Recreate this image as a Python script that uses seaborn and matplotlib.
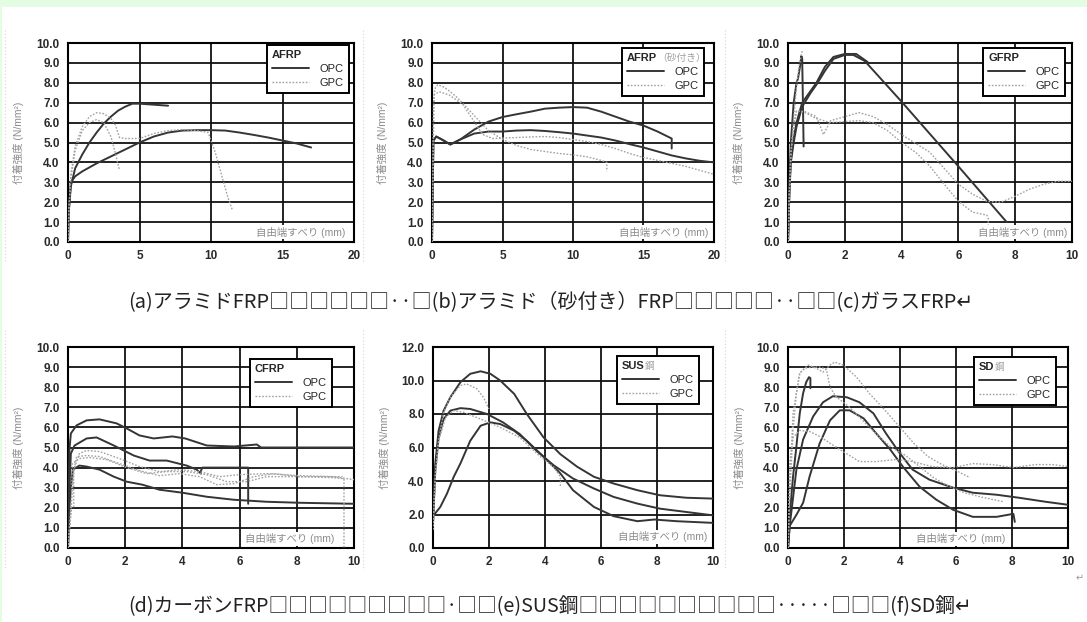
import numpy as np
import seaborn as sns
import matplotlib.pyplot as plt
from matplotlib.lines import Line2D
from matplotlib.patches import Rectangle

# (a) AFRP
a_opc1_x = [0, 0.05, 0.2, 0.5, 1, 1.5, 2, 2.5, 3, 3.5, 4, 4.5, 5, 6, 7]
a_opc1_y = [0, 1.5, 2.8, 3.7, 4.4, 5.0, 5.5, 5.95, 6.3, 6.6, 6.8, 6.95, 6.95, 6.9, 6.85]
a_opc2_x = [0, 0.05, 0.2, 0.5, 1, 2, 3, 4, 5, 6, 7, 8, 9, 10, 11, 12, 13, 14, 15, 16, 17]
a_opc2_y = [0, 1.5, 3.0, 3.3, 3.55, 3.95, 4.3, 4.65, 5.0, 5.3, 5.5, 5.6, 5.62, 5.62, 5.6, 5.5, 5.38, 5.25, 5.1, 4.95, 4.75]
a_gpc1_x = [0, 0.05, 0.2, 0.5, 1, 1.5, 2, 2.5, 3, 3.3, 3.6]
a_gpc1_y = [0, 1.5, 3.2, 4.6, 5.6, 6.0, 6.15, 6.0, 5.3, 4.5, 3.6]
a_gpc2_x = [0, 0.05, 0.2, 0.5, 1, 1.5, 2, 2.5, 3, 3.3, 3.6, 4, 5, 6, 7, 8, 9, 9.8, 10.3, 10.8, 11.2, 11.5]
a_gpc2_y = [0, 1.5, 3.4, 4.8, 5.8, 6.3, 6.5, 6.45, 6.2, 5.9, 5.25, 5.2, 5.2, 5.45, 5.6, 5.65, 5.6, 5.5, 4.5, 3.2, 2.2, 1.6]

# (b) AFRP (sand coated)
b_opc1_x = [0, 0.1, 0.3, 0.7, 1.3, 2, 3, 4, 5, 6, 7, 8, 9, 10, 11, 12, 13, 14, 15, 16, 17, 17]
b_opc1_y = [0, 5.1, 5.3, 5.15, 4.9, 5.15, 5.65, 6.05, 6.28, 6.42, 6.55, 6.7, 6.75, 6.78, 6.75, 6.55, 6.3, 6.05, 5.85, 5.55, 5.2, 4.7]
b_opc2_x = [0, 0.1, 0.3, 0.7, 1.3, 2, 3, 4, 5, 6, 7, 8, 9, 10, 11, 12, 13, 14, 15, 16, 17, 18, 19, 20]
b_opc2_y = [0, 5.1, 5.3, 5.15, 4.9, 5.15, 5.45, 5.55, 5.55, 5.6, 5.62, 5.58, 5.52, 5.45, 5.35, 5.25, 5.1, 4.92, 4.75, 4.55, 4.35, 4.2, 4.08, 4.0]
b_gpc1_x = [0, 0.1, 0.2, 0.4, 0.8, 1.2, 1.8, 2.4, 3, 3.4, 4, 5, 6, 7, 8, 9, 10, 11, 12, 12.4, 12.4]
b_gpc1_y = [0, 6.8, 7.7, 7.9, 7.8, 7.6, 7.25, 6.8, 6.35, 6.05, 5.6, 5.15, 4.85, 4.65, 4.55, 4.45, 4.38, 4.28, 4.1, 4.0, 3.55]
b_gpc2_x = [0, 0.15, 0.5, 1.2, 2.2, 2.9, 3.6, 4.3, 5, 6, 7, 8, 9, 10, 11, 12, 13, 14, 15, 16, 17, 18, 19, 20]
b_gpc2_y = [0, 7.4, 7.55, 7.4, 6.9, 6.15, 5.4, 5.2, 5.22, 5.25, 5.28, 5.3, 5.25, 5.15, 5.05, 4.9, 4.7, 4.45, 4.25, 4.1, 3.95, 3.8, 3.6, 3.4]

# (c) GFRP
c_opc1_x = [0, 0.05, 0.1, 0.2, 0.3, 0.35, 0.42, 0.47, 0.5, 0.55]
c_opc1_y = [0, 3.0, 5.0, 7.0, 8.0, 8.2, 8.8, 9.35, 9.2, 4.8]
c_opc2_x = [0, 0.05, 0.1, 0.2, 0.3, 0.5, 0.8, 1.0, 1.3, 1.6, 2.0, 2.3, 2.7, 4.0, 6.0, 7.7]
c_opc2_y = [0, 2.5, 4.0, 5.0, 5.8, 6.8, 7.5, 7.9, 8.6, 9.2, 9.4, 9.4, 9.1, 7.05, 3.8, 1.0]
c_opc3_x = [0, 0.05, 0.1, 0.2, 0.3, 0.5, 0.8, 1.0, 1.3, 1.6, 2.0, 2.4, 2.8]
c_opc3_y = [0, 2.7, 4.2, 5.2, 6.0, 7.0, 7.6, 8.0, 8.8, 9.3, 9.45, 9.45, 9.05]
c_gpc1_x = [0, 0.05, 0.1, 0.2, 0.3, 0.4, 0.5]
c_gpc1_y = [0, 2.5, 4.2, 6.2, 7.8, 8.9, 9.6]
c_gpc2_x = [0, 0.05, 0.1, 0.2, 0.3, 0.6, 1.0, 1.25, 1.5, 2.0, 2.5, 3.0, 3.5, 4.0, 4.5, 5.0, 5.5, 6.0, 6.5, 7.0, 7.5, 8.0, 8.5, 9.0, 9.5, 10.0]
c_gpc2_y = [0, 2.5, 4.5, 5.8, 6.6, 6.55, 6.3, 5.4, 6.1, 6.3, 6.5, 6.3, 5.9, 5.4, 4.95, 4.5, 3.7, 2.9, 2.4, 2.05, 2.0, 2.3, 2.65, 2.9, 3.05, 3.05]
c_gpc3_x = [0, 0.05, 0.1, 0.2, 0.3, 0.6, 1.0, 1.5, 2.0, 2.5, 3.0, 3.5, 4.0, 4.5, 5.0, 5.5, 6.0, 6.5, 7.0, 7.05, 7.05]
c_gpc3_y = [0, 2.5, 4.5, 5.8, 6.6, 6.5, 6.2, 6.0, 6.05, 6.1, 6.0, 5.6, 5.0, 4.5, 3.8, 2.9, 2.05, 1.5, 1.35, 1.2, 0.8]

# (d) CFRP
d_opc1_x = [0, 0.05, 0.1, 0.3, 0.65, 1.1, 1.7, 2.05, 2.5, 3.0, 3.65, 4.1, 4.85, 5.8, 6.6, 6.75, 8, 10]
d_opc1_y = [0, 4.9, 5.7, 6.1, 6.35, 6.4, 6.2, 5.95, 5.6, 5.45, 5.55, 5.45, 5.1, 5.05, 5.15, 5.0, 5.0, 5.0]
d_opc2_x = [0, 0.05, 0.1, 0.23, 0.65, 1.0, 1.6, 2.3, 2.85, 3.45, 4.15, 4.5, 4.65, 4.65, 4.7, 6.3, 6.3]
d_opc2_y = [0, 3.0, 4.7, 5.1, 5.45, 5.5, 5.1, 4.6, 4.35, 4.35, 4.1, 3.9, 3.7, 3.85, 4.0, 4.0, 2.2]
d_opc3_x = [0, 0.05, 0.1, 0.17, 0.4, 0.65, 1.1, 1.6, 2.05, 2.6, 3.2, 4.0, 4.85, 5.8, 6.95, 8.1, 10]
d_opc3_y = [0, 2.0, 3.0, 3.9, 4.1, 4.05, 3.9, 3.55, 3.3, 3.15, 2.9, 2.75, 2.55, 2.4, 2.3, 2.25, 2.2]
d_gpc1_x = [0, 0.12, 0.2, 0.2, 0.4, 0.65, 1.1, 1.8, 2.5, 3.2, 3.9, 4.6, 5.3, 6.0, 6.95, 8.1, 9.25, 10]
d_gpc1_y = [0, 2.05, 2.05, 3.9, 4.7, 4.85, 4.8, 4.45, 4.05, 3.8, 3.9, 3.8, 3.55, 3.65, 3.7, 3.6, 3.55, 3.4]
d_gpc2_x = [0, 0.1, 0.2, 0.3, 0.65, 1.1, 1.8, 2.5, 3.2, 3.9, 4.6, 5.2, 5.8, 6.5, 7.2, 8.1, 9.25, 9.65, 9.65]
d_gpc2_y = [0, 2.0, 3.8, 4.55, 4.6, 4.55, 4.2, 3.85, 3.6, 3.7, 3.55, 3.15, 3.2, 3.55, 3.7, 3.55, 3.5, 3.45, 0]
d_gpc3_x = [0, 0.12, 0.15, 0.4, 0.75, 1.35, 2.05, 2.75, 3.45, 4.15, 4.85, 5.55, 6.25, 6.95, 7.9, 8.8, 9.6]
d_gpc3_y = [0, 2.05, 4.2, 4.45, 4.5, 4.4, 4.0, 3.7, 3.8, 3.8, 3.65, 3.3, 3.3, 3.55, 3.55, 3.55, 3.55]

# (e) SUS steel
e_opc1_x = [0, 0.08, 0.2, 0.38, 0.62, 0.98, 1.33, 1.7, 2.05, 2.4, 2.9, 3.35, 3.95, 4.55, 5.15, 5.75, 6.45, 7.3, 8.1, 9.05, 10]
e_opc1_y = [1.5, 5.0, 7.0, 8.2, 9.0, 9.9, 10.4, 10.55, 10.4, 10.0, 9.2, 8.0, 6.6, 5.6, 4.85, 4.25, 3.85, 3.45, 3.15, 3.0, 2.95]
e_opc2_x = [0, 0.08, 0.2, 0.38, 0.62, 0.98, 1.33, 1.93, 2.5, 3.1, 3.7, 4.3, 5.0, 5.75, 6.45, 7.3, 8.1, 9.05, 10]
e_opc2_y = [1.5, 4.6, 6.6, 7.7, 8.2, 8.35, 8.3, 8.0, 7.5, 6.8, 5.8, 4.95, 4.15, 3.55, 3.05, 2.65, 2.35, 2.15, 1.95]
e_opc3_x = [0, 0.26, 0.5, 0.74, 0.98, 1.33, 1.7, 2.05, 2.4, 2.9, 3.35, 3.95, 4.55, 5.0, 5.75, 6.45, 7.3, 7.9, 8.7, 10]
e_opc3_y = [1.9, 2.45, 3.25, 4.25, 5.05, 6.4, 7.3, 7.5, 7.4, 7.0, 6.4, 5.45, 4.45, 3.45, 2.45, 1.9, 1.6, 1.7, 1.6, 1.5]
e_gpc1_x = [0, 0.08, 0.2, 0.38, 0.62, 0.98, 1.2, 1.57, 1.8, 2.0]
e_gpc1_y = [1.1, 4.4, 6.4, 8.1, 9.0, 9.7, 9.8, 9.5, 9.0, 8.3]
e_gpc2_x = [0, 0.08, 0.2, 0.45, 0.74, 1.1, 1.7, 2.4, 3.1, 3.8, 4.3, 4.55, 4.55]
e_gpc2_y = [1.1, 4.2, 6.4, 7.8, 8.2, 8.1, 7.7, 7.2, 6.6, 5.5, 4.85, 4.25, 3.65]

# (f) SD steel
f_opc1_x = [0, 0.06, 0.18, 0.3, 0.42, 0.54, 0.65, 0.75, 0.8, 0.8]
f_opc1_y = [0, 1.6, 3.55, 5.05, 6.7, 7.7, 8.25, 8.5, 8.45, 7.95]
f_opc2_x = [0, 0.06, 0.3, 0.54, 0.9, 1.25, 1.6, 2.1, 2.55, 3.05, 3.5, 4.0, 4.45, 5.05, 5.9, 6.6, 7.45, 8.25, 9.2, 10]
f_opc2_y = [0, 1.1, 3.9, 5.4, 6.55, 7.25, 7.55, 7.5, 7.25, 6.7, 5.7, 4.7, 3.9, 3.4, 3.0, 2.75, 2.65, 2.5, 2.3, 2.15]
f_opc3_x = [0, 0.06, 0.3, 0.54, 0.77, 1.13, 1.5, 1.85, 2.2, 2.7, 3.15, 3.65, 4.1, 4.7, 5.3, 5.9, 6.6, 7.45, 8.05, 8.1]
f_opc3_y = [0, 1.1, 1.65, 2.25, 3.55, 5.2, 6.35, 6.85, 6.85, 6.45, 5.7, 4.9, 4.05, 3.05, 2.4, 1.9, 1.55, 1.55, 1.7, 1.3]
f_gpc1_x = [0, 0.06, 0.18, 0.3, 0.42, 0.6, 0.9, 1.13, 1.37, 1.5, 1.7, 2.2, 2.7, 3.2, 3.7, 4.2, 4.7, 5.2, 5.7, 6.3, 7.0, 7.7]
f_gpc1_y = [0, 2.55, 5.85, 7.7, 8.7, 8.95, 9.0, 9.0, 8.9, 8.0, 7.55, 7.0, 6.3, 5.6, 5.0, 4.6, 4.05, 3.5, 3.1, 2.75, 2.5, 2.3]
f_gpc2_x = [0, 0.06, 0.18, 0.42, 0.72, 1.0, 1.25, 1.5, 1.67, 1.97, 2.45, 2.9, 3.5, 4.0, 4.5, 5.0, 5.5, 6.0, 6.5]
f_gpc2_y = [0, 3.0, 6.7, 8.7, 9.1, 8.95, 8.75, 9.1, 9.25, 9.1, 8.5, 7.7, 6.8, 6.0, 5.2, 4.55, 4.15, 3.85, 3.5]
f_gpc3_x = [0, 0.06, 0.18, 0.42, 0.77, 1.13, 1.85, 2.55, 3.15, 3.85, 4.45, 5.15, 5.9, 6.6, 7.3, 8.05, 8.85, 9.45, 10]
f_gpc3_y = [0, 4.2, 5.5, 5.85, 5.8, 5.55, 4.9, 4.3, 4.3, 4.4, 4.3, 4.05, 4.0, 4.2, 4.15, 4.0, 4.15, 4.15, 4.05]

series_labels = ["OPC", "GPC"]
y_label = "付着強度 (N/mm²)"
x_label = "自由端すべり (mm)"
caption_top = "(a)アラミドFRP□□□□□□··□(b)アラミド（砂付き）FRP□□□□□··□□(c)ガラスFRP↵"
caption_bottom = "(d)カーボンFRP□□□□□□□□□·□□(e)SUS鋼□□□□□□□□□□·····□□□(f)SD鋼↵"

OPC_COLOR = "#353535"
GPC_COLOR = "#a2a2a2"
W, H = 1087, 622

panels = [
    dict(box=(68, 43, 286, 199), xmax=20, xstep=5, ymax=10, ystep=1,
         opc=[(a_opc1_x, a_opc1_y), (a_opc2_x, a_opc2_y)],
         gpc=[(a_gpc1_x, a_gpc1_y), (a_gpc2_x, a_gpc2_y)],
         title="AFRP", extra=None, leg=(0.696, 0.99), xl=(0.97, 0.05)),
    dict(box=(432, 43, 282, 199), xmax=20, xstep=5, ymax=10, ystep=1,
         opc=[(b_opc1_x, b_opc1_y), (b_opc2_x, b_opc2_y)],
         gpc=[(b_gpc1_x, b_gpc1_y), (b_gpc2_x, b_gpc2_y)],
         title="AFRP", extra="（砂付き）", leg=(0.674, 0.975), xl=(0.98, 0.05)),
    dict(box=(788, 43, 284, 199), xmax=10, xstep=2, ymax=10, ystep=1,
         opc=[(c_opc1_x, c_opc1_y), (c_opc2_x, c_opc2_y), (c_opc3_x, c_opc3_y)],
         gpc=[(c_gpc1_x, c_gpc1_y), (c_gpc2_x, c_gpc2_y), (c_gpc3_x, c_gpc3_y)],
         title="GFRP", extra=None, leg=(0.687, 0.975), xl=(0.985, 0.05)),
    dict(box=(68, 347, 286, 201), xmax=10, xstep=2, ymax=10, ystep=1,
         opc=[(d_opc1_x, d_opc1_y), (d_opc2_x, d_opc2_y), (d_opc3_x, d_opc3_y)],
         gpc=[(d_gpc1_x, d_gpc1_y), (d_gpc2_x, d_gpc2_y), (d_gpc3_x, d_gpc3_y)],
         title="CFRP", extra=None, leg=(0.636, 0.94), xl=(0.93, 0.045)),
    dict(box=(433, 347, 280, 201), xmax=10, xstep=2, ymax=12, ystep=2,
         opc=[(e_opc1_x, e_opc1_y), (e_opc2_x, e_opc2_y), (e_opc3_x, e_opc3_y)],
         gpc=[(e_gpc1_x, e_gpc1_y), (e_gpc2_x, e_gpc2_y)],
         title="SUS", extra="鋼", leg=(0.657, 0.955), xl=(0.98, 0.055)),
    dict(box=(788, 347, 280, 201), xmax=10, xstep=2, ymax=10, ystep=1,
         opc=[(f_opc1_x, f_opc1_y), (f_opc2_x, f_opc2_y), (f_opc3_x, f_opc3_y)],
         gpc=[(f_gpc1_x, f_gpc1_y), (f_gpc2_x, f_gpc2_y), (f_gpc3_x, f_gpc3_y)],
         title="SD", extra="鋼", leg=(0.664, 0.95), xl=(0.775, 0.045)),
]

sns.set_style("white")
plt.rcParams["font.family"] = ["Liberation Sans", "Noto Sans CJK JP", "DejaVu Sans"]

fig = plt.figure(figsize=(W / 100, H / 100), dpi=100)
fig.patch.set_facecolor("white")
fig.add_artist(Rectangle((0, 1 - 7 / H), 1, 7 / H, transform=fig.transFigure,
                         facecolor="#e3fde3", edgecolor="none", zorder=0))
fig.add_artist(Rectangle((0, 0), 2 / W, 1, transform=fig.transFigure,
                         facecolor="#e3fde3", edgecolor="none", zorder=0))

# faint table cell borders
for xp in [5, 363, 725]:
    for y0, y1 in [(30, 262), (330, 570)]:
        fig.add_artist(Line2D([xp / W, xp / W], [1 - y0 / H, 1 - y1 / H], transform=fig.transFigure,
                              color="#d4d4d4", lw=0.8, ls=(0, (1, 2))))

for p in panels:
    l, t, w, h = p["box"]
    ax = fig.add_axes([l / W, 1 - (t + h) / H, w / W, h / H])

    for xs, ys in p["opc"]:
        sns.lineplot(x=xs, y=ys, ax=ax, sort=False, estimator=None,
                     color=OPC_COLOR, lw=1.4, zorder=3)
    for xs, ys in p["gpc"]:
        sns.lineplot(x=xs, y=ys, ax=ax, sort=False, estimator=None,
                     color=GPC_COLOR, lw=1.0, ls=(0, (1.2, 1.2)), zorder=3)

    xt = np.arange(0, p["xmax"] + 0.01, p["xstep"])
    yt = np.arange(0, p["ymax"] + 0.01, p["ystep"])
    ax.set_xlim(0, p["xmax"])
    ax.set_ylim(0, p["ymax"])
    ax.set_xticks(xt)
    ax.set_xticklabels([f"{v:g}" for v in xt], fontweight="bold", fontsize=8.5, color="#2a2a2a")
    ax.set_yticks(yt)
    ax.set_yticklabels([f"{v:.1f}" for v in yt], fontweight="bold", fontsize=8.5, color="#2a2a2a")
    ax.tick_params(length=3, width=0.8, color="#333333", pad=3)
    ax.grid(True, color="#111111", lw=1.3)
    ax.set_axisbelow(True)
    for s in ax.spines.values():
        s.set_visible(True)
        s.set_color("black")
        s.set_linewidth(1.5)

    ax.set_xlabel("")
    ax.set_ylabel(y_label, color="#8c8c8c", fontsize=7.5)
    ax.yaxis.set_label_coords(-0.155, 0.5)
    ax.text(p["xl"][0], p["xl"][1], x_label, transform=ax.transAxes, ha="right", va="center",
            fontsize=7.5, color="#8c8c8c", zorder=4,
            bbox=dict(facecolor="white", edgecolor="none", pad=0.8))

    handles = [Line2D([], [], color=OPC_COLOR, lw=1.4),
               Line2D([], [], color=GPC_COLOR, lw=1.0, ls=(0, (1.2, 1.2)))]
    leg = ax.legend(handles, series_labels, title=p["title"], loc="upper left",
                    bbox_to_anchor=p["leg"], borderaxespad=0, frameon=True, fancybox=False,
                    edgecolor="black", framealpha=1, fontsize=8, title_fontsize=8,
                    handlelength=3.3, handletextpad=1.0, borderpad=0.45, labelspacing=0.35,
                    alignment="left")
    leg.get_frame().set_linewidth(1.4)
    leg.get_title().set_fontweight("bold")
    leg.set_zorder(6)
    if p["extra"]:
        ax.annotate(p["extra"], xy=(1, 0.5), xycoords=leg.get_title(), va="center", ha="left",
                    fontsize=7, color="#a0a0a0", zorder=10)

cap_font = ["Noto Sans CJK JP", "DejaVu Sans"]
fig.text(128 / W, 1 - 302 / H, caption_top, ha="left", va="center", fontsize=14.4,
         family=cap_font, color="#222222")
fig.text(128 / W, 1 - 607 / H, caption_bottom, ha="left", va="center", fontsize=14.2,
         family=cap_font, color="#222222")
fig.text(1080 / W, 1 - 578 / H, "↵", ha="center", va="center", fontsize=7,
         family=["DejaVu Sans"], color="#9a9a9a")

fig.savefig("out.png", dpi=100)
